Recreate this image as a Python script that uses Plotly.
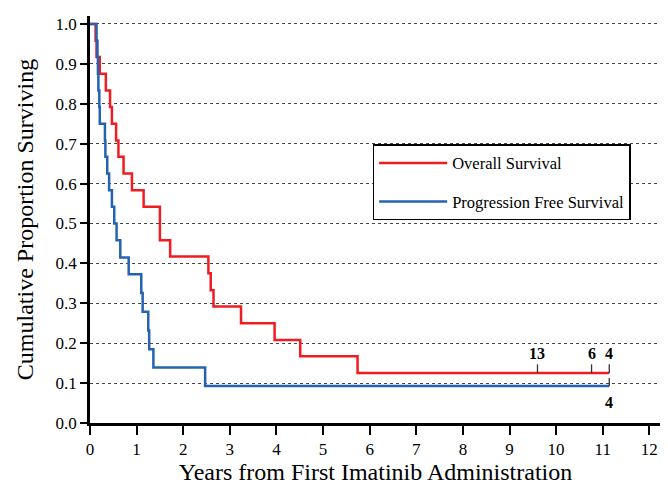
import plotly.graph_objects as go

# Overall survival (Kaplan-Meier step points)
os_times = [0, 0.12, 0.14, 0.21, 0.34, 0.43, 0.47, 0.56, 0.61, 0.72, 0.90, 1.15, 1.50, 1.72,
            2.54, 2.59, 2.65, 3.24, 3.96, 4.51, 5.74, 11.14]
os_surv = [1.0, 0.958, 0.917, 0.875, 0.833, 0.792, 0.75, 0.708, 0.667, 0.625, 0.583, 0.542,
           0.458, 0.417, 0.375, 0.333, 0.292, 0.25, 0.208, 0.167, 0.125, 0.125]

# Progression free survival
pfs_times = [0, 0.14, 0.16, 0.17, 0.18, 0.20, 0.21, 0.32, 0.33, 0.37, 0.41, 0.47, 0.52, 0.57,
             0.65, 0.83, 1.10, 1.13, 1.25, 1.27, 1.36, 2.47, 11.14]
pfs_surv = [1.0, 0.958, 0.917, 0.875, 0.833, 0.792, 0.75, 0.708, 0.667, 0.625, 0.583, 0.542,
            0.50, 0.458, 0.415, 0.373, 0.326, 0.279, 0.232, 0.185, 0.139, 0.093, 0.093]

# Censor marks with numbers at risk
os_censor_times = [9.60, 10.76, 11.14]
os_censor_labels = ["13", "6", "4"]
pfs_censor_times = [11.14]
pfs_censor_labels = ["4"]

x_ticks = list(range(0, 13))
y_ticks = [round(i * 0.1, 1) for i in range(0, 11)]

RED = "#f01c22"
BLUE = "#2463b3"
FONT = "'Liberation Serif', 'Times New Roman', Times, serif"

fig = go.Figure()

fig.add_trace(go.Scatter(x=os_times, y=os_surv, mode="lines", line_shape="hv",
                         line=dict(color=RED, width=2.5), name="Overall Survival",
                         legendgroup="a"))
fig.add_trace(go.Scatter(x=pfs_times, y=pfs_surv, mode="lines", line_shape="hv",
                         line=dict(color=BLUE, width=2.5), name="Progression Free Survival",
                         legendgroup="b"))


def tick_segments(times, level, length):
    xs, ys = [], []
    for t in times:
        xs += [t, t, None]
        ys += [level, level + length, None]
    return xs, ys


os_level = os_surv[-1]
pfs_level = pfs_surv[-1]
cx, cy = tick_segments(os_censor_times, os_level, 0.022)
fig.add_trace(go.Scatter(x=cx, y=cy, mode="lines", line=dict(color="#333333", width=1.3),
                         showlegend=False, hoverinfo="skip"))
cx, cy = tick_segments(pfs_censor_times, pfs_level, 0.02)
fig.add_trace(go.Scatter(x=cx, y=cy, mode="lines", line=dict(color="#333333", width=1.3),
                         showlegend=False, hoverinfo="skip"))

for t, lab in zip(os_censor_times, os_censor_labels):
    fig.add_annotation(x=t, y=os_level + 0.05, text="<b>" + lab + "</b>", showarrow=False,
                       font=dict(family=FONT, size=16, color="black"))
for t, lab in zip(pfs_censor_times, pfs_censor_labels):
    fig.add_annotation(x=t, y=pfs_level - 0.042, text="<b>" + lab + "</b>", showarrow=False,
                       font=dict(family=FONT, size=16, color="black"))

fig.update_layout(
    width=660, height=481,
    margin=dict(l=82, r=7, t=8, b=66),
    paper_bgcolor="white", plot_bgcolor="white",
    font=dict(family=FONT, color="black"),
    showlegend=True,
    legend=dict(x=0.495, y=0.685, xanchor="left", yanchor="top",
                bordercolor="black", borderwidth=1.5, bgcolor="white",
                font=dict(family=FONT, size=16.5, color="black"),
                traceorder="grouped", tracegroupgap=14, itemwidth=68),
    xaxis=dict(range=[0, 12.25], tickvals=x_ticks, ticktext=[str(v) for v in x_ticks],
               showgrid=False, zeroline=False, showline=True, linecolor="black", linewidth=2.5,
               ticks="outside", ticklen=9, tickwidth=1.5, tickcolor="black",
               tickfont=dict(family=FONT, size=17, color="black"),
               title=dict(text="Years from First Imatinib Administration",
                          font=dict(family=FONT, size=24, color="black"), standoff=6)),
    yaxis=dict(range=[0, 1.02], tickvals=y_ticks, ticktext=[f"{v:.1f}" for v in y_ticks],
               showgrid=True, gridcolor="#444444", griddash="dot", gridwidth=1.2,
               zeroline=False, showline=True, linecolor="black", linewidth=2.5,
               ticks="outside", ticklen=7, tickwidth=1.5, tickcolor="black",
               tickfont=dict(family=FONT, size=17, color="black"),
               title=dict(text="Cumulative Proportion Surviving",
                          font=dict(family=FONT, size=24, color="black"), standoff=16)),
)

fig.write_html("out.html")
